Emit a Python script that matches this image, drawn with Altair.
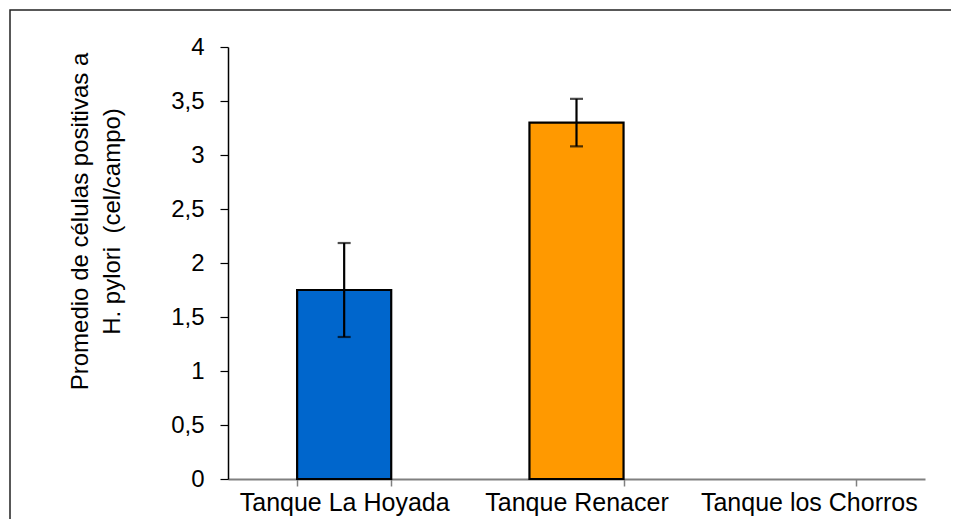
import altair as alt
import pandas as pd

categorias = ["Tanque La Hoyada", "Tanque Renacer", "Tanque los Chorros"]
promedios = [1.75, 3.30, 0.0]
error_inf = [1.315, 3.08, 0.0]
error_sup = [2.185, 3.52, 0.0]
colores = ["#0066CC", "#FF9900", "#FFFFFF"]

df = pd.DataFrame({
    "categoria": categorias,
    "valor": promedios,
    "lo": error_inf,
    "hi": error_sup,
    "color": colores,
})

W, H = 697, 432
FONT = "Liberation Sans"

xscale = alt.Scale(domain=categorias, paddingInner=0.595, paddingOuter=0.2975)

base = alt.Chart(df).transform_filter("datum.valor > 0")

bars = base.mark_bar(stroke="black", strokeWidth=2.2).encode(
    x=alt.X("categoria:N", scale=xscale, sort=categorias,
            axis=alt.Axis(title=None, labelAngle=0, labelFont=FONT, labelFontSize=25,
                          labelColor="black", labelPadding=4, labelLimit=400,
                          tickBand="extent",
                          domainColor="#808080", domainWidth=2, tickColor="#808080",
                          tickWidth=1.5, tickSize=7)),
    y=alt.Y("valor:Q", scale=alt.Scale(domain=[0, 4]),
            axis=alt.Axis(values=[0, 0.5, 1, 1.5, 2, 2.5, 3, 3.5, 4],
                          labelExpr="replace(format(datum.value, '~g'), '.', ',')",
                          labelFont=FONT, labelFontSize=24, labelColor="black",
                          labelPadding=16, tickSize=8, tickColor="black",
                          domainColor="black", domainWidth=1.5, tickWidth=1.2,
                          grid=False,
                          title=["Promedio de células positivas a", "H. pylori\u00a0\u00a0(cel/campo)"],
                          titleFont=FONT, titleFontSize=24, titleFontWeight="normal",
                          titleColor="black", titleX=-148, titleY=174, titleAngle=-90,
                          titleAlign="center", titleBaseline="middle", titleLineHeight=32)),
    color=alt.Color("color:N", scale=None),
)

rules = base.mark_rule(color="black", strokeWidth=2.2).encode(
    x=alt.X("categoria:N", scale=xscale, sort=categorias),
    y="lo:Q",
    y2="hi:Q",
)

caps_hi = base.mark_tick(color="black", thickness=2.2, size=13, orient="horizontal").encode(
    x=alt.X("categoria:N", scale=xscale, sort=categorias),
    y="hi:Q",
)
caps_lo = base.mark_tick(color="black", thickness=2.2, size=13, orient="horizontal").encode(
    x=alt.X("categoria:N", scale=xscale, sort=categorias),
    y="lo:Q",
)

frame = alt.Chart(df).transform_filter("datum.categoria == 'Tanque La Hoyada'").mark_rect(
    fill=None, stroke="#222222", strokeWidth=1.5, clip=False
).encode(
    x=alt.value(-218), x2=alt.value(W + 40),
    y=alt.value(-37), y2=alt.value(H + 60),
)

chart = alt.layer(frame, bars, rules, caps_hi, caps_lo).properties(
    width=W, height=H,
    padding={"left": 220, "top": 39, "right": 26, "bottom": 40},
    autosize=alt.AutoSizeParams(type="none"),
    background="white",
).configure_view(stroke=None)

chart.save("out.html", embed_options={"renderer": "svg", "actions": False})
